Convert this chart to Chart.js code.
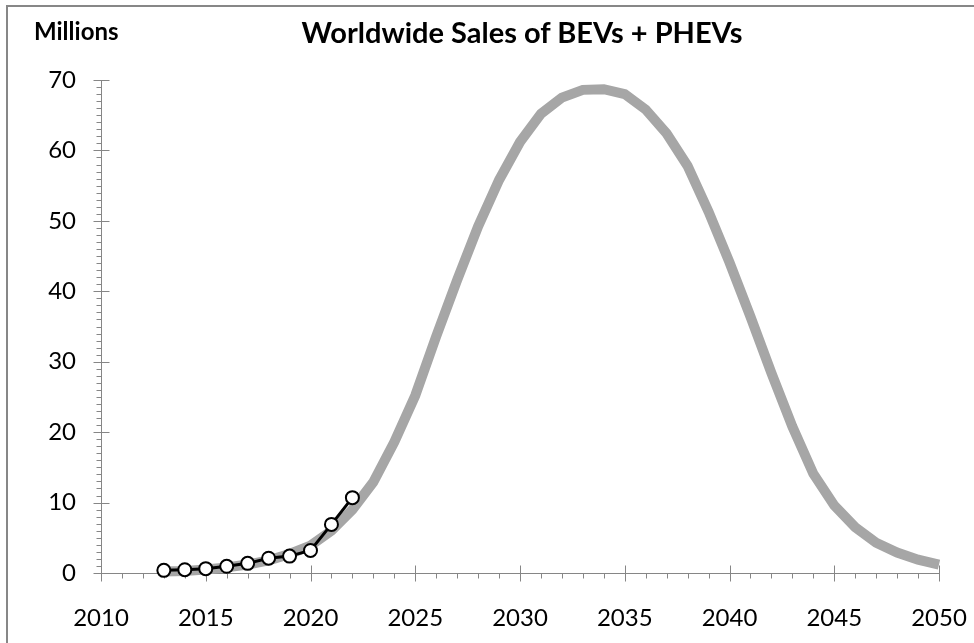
<!DOCTYPE html>
<html>
<head>
<meta charset="utf-8">
<title>Worldwide Sales of BEVs + PHEVs</title>
<script src="https://cdn.jsdelivr.net/npm/chart.js@4.4.0/dist/chart.umd.min.js"></script>
<style>
  html, body { margin: 0; padding: 0; background: #fff; }
  #wrap { position: relative; width: 974px; height: 643px; overflow: hidden; background: #fff; }
  #frame { position: absolute; left: 6px; top: 5px; width: 1000px; height: 700px; border: 2px solid #878787; }
  #chart { position: absolute; left: 0; top: 0; }
  .lbl { position: absolute; font-family: Lato, "Noto Sans", sans-serif; font-weight: bold; color: #000; white-space: nowrap; line-height: 1; }
  #title { left: 522px; top: 17px; font-size: 29px; transform: translateX(-50%); }
  #unit { left: 34px; top: 19px; font-size: 24px; }
</style>
</head>
<body>
<div id="wrap">
  <div id="frame"></div>
  <canvas id="chart" width="974" height="643"></canvas>
  <div class="lbl" id="title">Worldwide Sales of BEVs + PHEVs</div>
  <div class="lbl" id="unit">Millions</div>
</div>
<script>
// chart.js

// Doanh số thực tế (triệu xe)
const actualYears = [2013, 2014, 2015, 2016, 2017, 2018, 2019, 2020, 2021, 2022];
const actualSales = [0.38, 0.47, 0.62, 0.95, 1.37, 2.1, 2.4, 3.2, 6.9, 10.7];

// Đường dự báo (màu xám)
const forecastYears = [
  2013, 2014, 2015, 2016, 2017, 2018, 2019, 2020, 2021, 2022,
  2023, 2024, 2025, 2026, 2027, 2028, 2029, 2030, 2031, 2032,
  2033, 2034, 2035, 2036, 2037, 2038, 2039, 2040, 2041, 2042,
  2043, 2044, 2045, 2046, 2047, 2048, 2049, 2050
];
const forecastSales = [
  0.2, 0.3, 0.5, 0.8, 1.2, 1.8, 2.7, 3.9, 6.0, 9.0,
  12.9, 18.6, 25.2, 33.6, 41.6, 49.2, 55.8, 61.2, 65.2, 67.5,
  68.6, 68.7, 68.0, 65.8, 62.4, 57.8, 51.3, 44.1, 36.4, 28.4,
  20.8, 14.1, 9.6, 6.5, 4.3, 2.9, 1.9, 1.2
];

// Nhãn trục
const xTickLabels = [2010, 2015, 2020, 2025, 2030, 2035, 2040, 2045, 2050];
const yTickLabels = [0, 10, 20, 30, 40, 50, 60, 70];

const AXIS_COLOR = '#868686';
const X_MINOR_STEP = 1;
const Y_MINOR_STEP = 1;

function toPoints(xs, ys) {
  return xs.map((x, i) => ({ x: x, y: ys[i] }));
}

// Vẽ vạch chia chính (cắt trục) và vạch chia phụ
const axisTicks = {
  id: 'axisTicks',
  beforeDatasetsDraw(chart) {
    const ctx = chart.ctx;
    const xs = chart.scales.x;
    const ys = chart.scales.y;
    const area = chart.chartArea;
    const ax = Math.round(area.left) + 0.5;
    const ay = Math.round(area.bottom) + 0.5;

    ctx.save();
    ctx.strokeStyle = AXIS_COLOR;
    ctx.lineWidth = 1;
    ctx.beginPath();

    for (let v = ys.min; v <= ys.max; v += Y_MINOR_STEP) {
      const py = Math.round(ys.getPixelForValue(v)) + 0.5;
      if (yTickLabels.includes(v)) {
        ctx.moveTo(ax - 8, py);
        ctx.lineTo(ax + 8, py);
      } else {
        ctx.moveTo(ax - 5, py);
        ctx.lineTo(ax, py);
      }
    }

    for (let v = xs.min; v <= xs.max; v += X_MINOR_STEP) {
      const px = Math.round(xs.getPixelForValue(v)) + 0.5;
      if (xTickLabels.includes(v)) {
        ctx.moveTo(px, ay - 8);
        ctx.lineTo(px, ay + 8);
      } else {
        ctx.moveTo(px, ay);
        ctx.lineTo(px, ay + 5);
      }
    }

    ctx.stroke();
    ctx.restore();
  }
};

function initChart() {
  const ctx = document.getElementById('chart').getContext('2d');

  new Chart(ctx, {
    type: 'line',
    data: {
      datasets: [
        {
          label: 'Actual',
          data: toPoints(actualYears, actualSales),
          borderColor: '#000000',
          borderWidth: 3,
          pointRadius: 6.5,
          pointBorderWidth: 2,
          pointBackgroundColor: '#ffffff',
          pointBorderColor: '#000000',
          tension: 0,
          clip: false
        },
        {
          label: 'Forecast',
          data: toPoints(forecastYears, forecastSales),
          borderColor: '#a6a6a6',
          borderWidth: 10,
          borderJoinStyle: 'miter',
          borderCapStyle: 'butt',
          pointRadius: 0,
          tension: 0,
          clip: false
        }
      ]
    },
    options: {
      responsive: false,
      animation: false,
      events: [],
      layout: {
        padding: { top: 80, right: 35, bottom: 0, left: 0 }
      },
      plugins: {
        legend: { display: false },
        tooltip: { enabled: false },
        title: { display: false }
      },
      scales: {
        x: {
          type: 'linear',
          min: 2010,
          max: 2050,
          afterBuildTicks: function(scale) {
            scale.ticks = xTickLabels.map(v => ({ value: v }));
          },
          afterFit: function(scale) {
            scale.height = 70;
            scale.paddingLeft = 0;
            scale.paddingRight = 0;
          },
          grid: { display: true, drawOnChartArea: false, drawTicks: false },
          border: { display: true, color: AXIS_COLOR, width: 1 },
          ticks: {
            color: '#000',
            padding: 31,
            maxRotation: 0,
            autoSkip: false,
            font: { family: 'Lato', size: 24 },
            callback: function(value) { return String(value); }
          }
        },
        y: {
          type: 'linear',
          min: 0,
          max: 70,
          afterBuildTicks: function(scale) {
            scale.ticks = yTickLabels.map(v => ({ value: v }));
          },
          afterFit: function(scale) {
            scale.width = 101;
            scale.paddingTop = 0;
            scale.paddingBottom = 0;
          },
          grid: { display: true, drawOnChartArea: false, drawTicks: false },
          border: { display: true, color: AXIS_COLOR, width: 1 },
          ticks: {
            color: '#000',
            padding: 25,
            autoSkip: false,
            font: { family: 'Lato', size: 24 }
          }
        }
      }
    },
    plugins: [axisTicks]
  });
}

document.addEventListener('DOMContentLoaded', initChart);
</script>
</body>
</html>
